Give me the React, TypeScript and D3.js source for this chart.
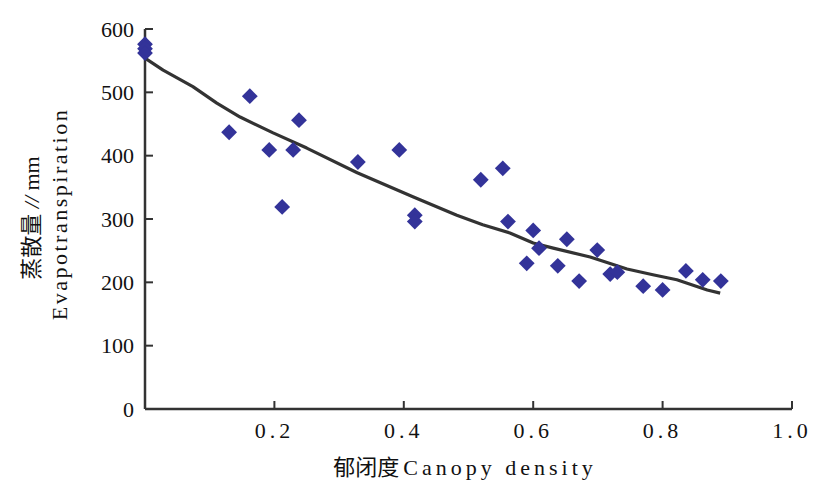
import React from "react";
import * as d3 from "d3";

// observed points: canopy density vs evapotranspiration (mm)
const density = [0, 0, 0, 0.13, 0.162, 0.192, 0.212, 0.229, 0.238, 0.329, 0.393, 0.417, 0.417, 0.519, 0.553, 0.561, 0.59, 0.6, 0.609, 0.638, 0.652, 0.671, 0.699, 0.719, 0.73, 0.77, 0.8, 0.836, 0.862, 0.89];
const evap = [576, 569, 562, 437, 494, 409, 319, 409, 456, 390, 409, 306, 296, 362, 380, 296, 230, 282, 254, 226, 268, 202, 251, 213, 216, 194, 188, 218, 204, 202];

// fitted trend line
const fitX = [0, 0.028, 0.074, 0.111, 0.147, 0.198, 0.25, 0.328, 0.414, 0.482, 0.522, 0.564, 0.6, 0.631, 0.688, 0.745, 0.785, 0.822, 0.869, 0.889];
const fitY = [554, 535, 509, 483, 461, 436, 412, 373, 335, 306, 291, 278, 262, 254, 240, 221, 212, 204, 188, 183];

const xTicks = [0.2, 0.4, 0.6, 0.8, 1.0];
const yTicks = [0, 100, 200, 300, 400, 500, 600];

const W = 813;
const H = 487;
const margin = { left: 145, right: 21, top: 29, bottom: 78 };
const axisColor = "#333";
const font = "'Liberation Serif', 'DejaVu Serif', serif";
const cjk = "'Noto Sans CJK SC', 'Liberation Serif', serif";

export default function App() {
  const x = d3.scaleLinear().domain([0, 1]).range([margin.left, W - margin.right]);
  const y = d3.scaleLinear().domain([0, 600]).range([H - margin.bottom, margin.top]);

  const line = d3
    .line<number>()
    .x((d) => x(d))
    .y((_, i) => y(fitY[i]));

  const diamond = d3.symbol().type(d3.symbolSquare).size(125)();

  return (
    <svg
      width={W}
      height={H}
      style={{ position: "fixed", left: 0, top: 0, background: "#fff" }}
    >
      {/* axes */}
      <line x1={x(0)} x2={x(0)} y1={y(0)} y2={y(600)} stroke={axisColor} strokeWidth={2.5} />
      <line x1={x(0)} x2={x(1)} y1={y(0)} y2={y(0)} stroke={axisColor} strokeWidth={2.5} />
      {yTicks.map((t) => (
        <g key={"y" + t}>
          <line x1={x(0)} x2={x(0) + 8} y1={y(t)} y2={y(t)} stroke={axisColor} strokeWidth={2} />
          <text
            x={x(0) - 11}
            y={y(t)}
            dy="0.35em"
            textAnchor="end"
            fontFamily={font}
            fontSize={22}
            fill="#111"
          >
            {t}
          </text>
        </g>
      ))}
      {xTicks.map((t) => (
        <g key={"x" + t}>
          <line x1={x(t)} x2={x(t)} y1={y(0)} y2={y(0) - 8} stroke={axisColor} strokeWidth={2} />
          <text
            x={x(t)}
            y={y(0) + 29}
            textAnchor="middle"
            fontFamily={font}
            fontSize={22}
            letterSpacing={4}
            fill="#111"
          >
            {t.toFixed(1)}
          </text>
        </g>
      ))}

      {/* trend line */}
      <path d={line(fitX) ?? ""} fill="none" stroke="#333" strokeWidth={3.2} strokeLinejoin="round" />

      {/* observations */}
      {density.map((d, i) => (
        <path
          key={i}
          d={diamond ?? ""}
          transform={`translate(${x(d)},${y(evap[i])}) rotate(45)`}
          fill="#333399"
        />
      ))}

      {/* axis titles */}
      <text
        x={465}
        y={475}
        textAnchor="middle"
        fontSize={22}
        fill="#111"
      >
        <tspan fontFamily={cjk}>郁闭度</tspan>
        <tspan fontFamily={font} letterSpacing={4} dx={4}>Canopy density</tspan>
      </text>
      <g transform="translate(39,218) rotate(-90)">
        <text textAnchor="middle" fontSize={22} fill="#111">
          <tspan fontFamily={cjk}>蒸散量</tspan>
          <tspan fontFamily={font} fontStyle="italic"> //</tspan>
          <tspan fontFamily={font}> mm</tspan>
        </text>
      </g>
      <g transform="translate(67,214) rotate(-90)">
        <text textAnchor="middle" fontFamily={font} fontSize={22} letterSpacing={2.5} fill="#111">
          Evapotranspiration
        </text>
      </g>
    </svg>
  );
}
